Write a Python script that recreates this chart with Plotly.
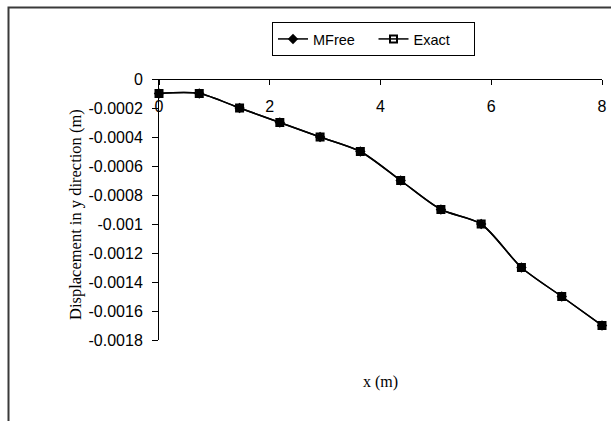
import plotly.graph_objects as go

# ---- data ----
x_pos = [0, 0.727, 1.455, 2.182, 2.909, 3.636, 4.364, 5.091, 5.818, 6.545, 7.273, 8]
mfree = [-0.0001, -0.0001, -0.0002, -0.0003, -0.0004, -0.0005, -0.0007,
         -0.0009, -0.0010, -0.0013, -0.0015, -0.0017]
exact = [-0.0001, -0.0001, -0.0002, -0.0003, -0.0004, -0.0005, -0.0007,
         -0.0009, -0.0010, -0.0013, -0.0015, -0.0017]
x_ticks = [0, 2, 4, 6, 8]
x_tick_text = ["0", "2", "4", "6", "8"]
y_ticks = [0, -0.0002, -0.0004, -0.0006, -0.0008, -0.001, -0.0012, -0.0014, -0.0016, -0.0018]
y_tick_text = ["0", "-0.0002", "-0.0004", "-0.0006", "-0.0008", "-0.001",
               "-0.0012", "-0.0014", "-0.0016", "-0.0018"]

SANS = "Liberation Sans, Arial, sans-serif"
SERIF = "Liberation Serif, Times New Roman, serif"

W, H = 611, 421
L, T = 159, 79          # plot area left / top (px)
PR, PB = 602, 340       # plot area right / bottom (px)
R, B = W - PR, H - PB
pw, ph = PR - L, PB - T


def px_x(x):
    return (x - L) / pw


def px_y(y):
    return (PB - y) / ph


fig = go.Figure()
fig.add_trace(go.Scatter(
    x=x_pos, y=mfree, name="MFree", mode="lines+markers",
    line=dict(color="black", width=1.5, shape="spline", smoothing=0.8),
    marker=dict(symbol="diamond", size=8, color="black"),
    cliponaxis=False,
))
fig.add_trace(go.Scatter(
    x=x_pos, y=exact, name="Exact", mode="lines+markers",
    line=dict(color="black", width=1.5, shape="spline", smoothing=0.8),
    marker=dict(symbol="square-open", size=7, color="black",
                line=dict(color="black", width=2)),
    cliponaxis=False,
))

fig.update_layout(
    width=W, height=H,
    margin=dict(l=L, r=R, t=T, b=B, autoexpand=False),
    paper_bgcolor="white", plot_bgcolor="white",
    font=dict(family=SANS, size=16, color="black"),
    showlegend=True,
    legend=dict(
        orientation="h", xref="container", yref="container",
        x=272 / W, y=1 - 22 / H, xanchor="left", yanchor="top",
        bordercolor="black", borderwidth=1, bgcolor="white",
        font=dict(family=SANS, size=14.5, color="black"),
        traceorder="normal", entrywidth=55.5, entrywidthmode="pixels",
    ),
    xaxis=dict(
        range=[0, 8], anchor="free", position=1, side="bottom",
        tickvals=x_ticks, ticktext=x_tick_text,
        showline=True, linecolor="black", linewidth=1,
        ticks="outside", ticklen=5, tickcolor="black", tickwidth=1,
        showgrid=False, zeroline=False, ticklabelstandoff=8,
        ticklabeloverflow="allow",
        tickfont=dict(family=SANS, size=16, color="black"),
    ),
    yaxis=dict(
        range=[-0.0018, 0],
        tickvals=y_ticks, ticktext=y_tick_text,
        showline=True, linecolor="black", linewidth=1,
        ticks="outside", ticklen=6, tickcolor="black", tickwidth=1,
        showgrid=False, zeroline=False, ticklabelstandoff=6,
        tickfont=dict(family=SANS, size=16, color="black"),
    ),
    annotations=[
        dict(text="Displacement in y direction (m)", xref="paper", yref="paper",
             x=px_x(75), y=px_y(215), textangle=-90,
             showarrow=False, xanchor="center", yanchor="middle",
             font=dict(family=SERIF, size=16.5, color="black")),
        dict(text="x (m)", xref="paper", yref="paper",
             x=0.5, y=px_y(382),
             showarrow=False, xanchor="center", yanchor="middle",
             font=dict(family=SERIF, size=16, color="black")),
    ],
    shapes=[
        dict(type="rect", xref="paper", yref="paper",
             x0=px_x(8.5), x1=px_x(680),
             y0=px_y(480), y1=px_y(7.5),
             line=dict(color="#3a3a3a", width=2), fillcolor="rgba(0,0,0,0)",
             layer="below"),
    ],
)

fig.write_html("out.html",
               config={"displayModeBar": False},
               post_script="document.body.style.margin='0';"
                           "document.body.style.overflow='hidden';")
